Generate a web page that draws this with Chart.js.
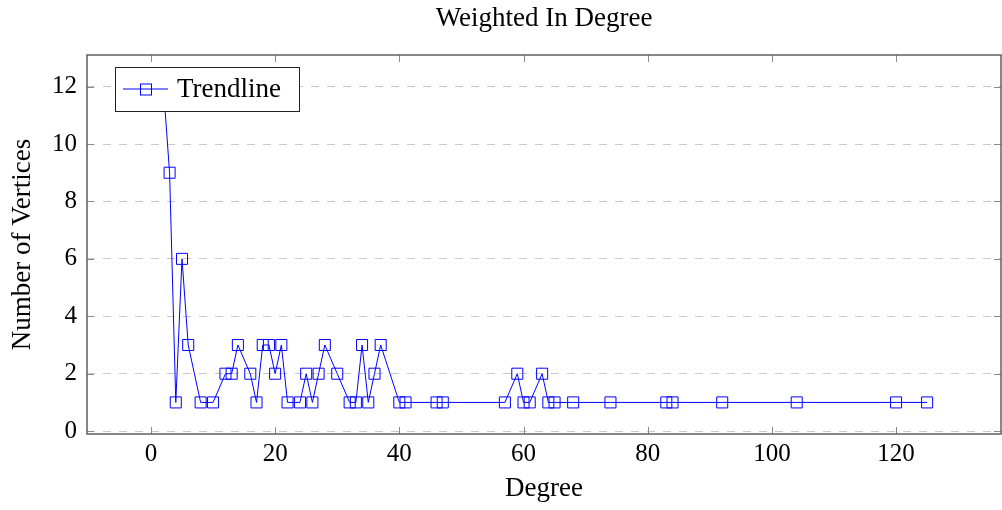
<!DOCTYPE html>
<html>
<head>
<meta charset="utf-8">
<title>Weighted In Degree</title>
<script src="https://cdn.jsdelivr.net/npm/chart.js@4/dist/chart.umd.min.js"></script>
<style>
  html, body { margin: 0; padding: 0; background: #fff; overflow: hidden; }
  #wrap { width: 1002px; height: 510px; position: relative; }
  canvas { display: block; }
</style>
</head>
<body>
<div id="wrap"><canvas id="chart"></canvas></div>
<script>
// degree values and how many vertices have that weighted in-degree
const degrees = [2, 3, 4, 5, 6, 8, 10, 12, 13, 14, 16, 17, 18, 19, 20, 21, 22, 24, 25, 26, 27, 28, 30, 32, 33, 34, 35, 36, 37, 40, 41, 46, 47, 57, 59, 60, 61, 63, 64, 65, 68, 74, 83, 84, 92, 104, 120, 125];
const vertexCounts = [12, 9, 1, 6, 3, 1, 1, 2, 2, 3, 2, 1, 3, 3, 2, 3, 1, 1, 2, 1, 2, 3, 2, 1, 1, 3, 1, 2, 3, 1, 1, 1, 1, 1, 2, 1, 1, 2, 1, 1, 1, 1, 1, 1, 1, 1, 1, 1];
const xTickValues = [0, 20, 40, 60, 80, 100, 120];
const yTickValues = [0, 2, 4, 6, 8, 10, 12];

const seriesLabel = 'Trendline';
const serif = "'Liberation Serif', 'DejaVu Serif', serif";
const blue = '#0000ff';

// pgfplots style frame + inward tick marks on all four sides
const framePlugin = {
  id: 'frame',
  afterDraw(chart) {
    const { ctx, chartArea: a, scales } = chart;
    ctx.save();
    ctx.strokeStyle = '#8a8a8a';
    ctx.lineWidth = 1;
    const len = 7;
    xTickValues.forEach((v) => {
      const x = Math.round(scales.x.getPixelForValue(v)) + 0.5;
      ctx.beginPath();
      ctx.moveTo(x, a.bottom); ctx.lineTo(x, a.bottom - len);
      ctx.moveTo(x, a.top); ctx.lineTo(x, a.top + len);
      ctx.stroke();
    });
    yTickValues.forEach((v) => {
      const y = Math.round(scales.y.getPixelForValue(v)) + 0.5;
      ctx.beginPath();
      ctx.moveTo(a.left, y); ctx.lineTo(a.left + len, y);
      ctx.moveTo(a.right, y); ctx.lineTo(a.right - len, y);
      ctx.stroke();
    });
    ctx.strokeStyle = '#606060';
    ctx.lineWidth = 1.5;
    ctx.strokeRect(a.left, a.top, a.right - a.left, a.bottom - a.top);
    ctx.restore();
  }
};

// legend box inside the plot, top left, drawn over the line
const legendBoxPlugin = {
  id: 'legendBox',
  afterDatasetsDraw(chart) {
    const { ctx, chartArea: a } = chart;
    const x = a.left + 28, y = a.top + 12, w = 184, h = 44;
    ctx.save();
    ctx.fillStyle = '#fff';
    ctx.fillRect(x, y, w, h);
    ctx.strokeStyle = '#222';
    ctx.lineWidth = 1;
    ctx.strokeRect(x + 0.5, y + 0.5, w, h);
    const cy = y + h / 2;
    ctx.strokeStyle = blue;
    ctx.beginPath();
    ctx.moveTo(x + 8, cy); ctx.lineTo(x + 53, cy);
    ctx.stroke();
    ctx.strokeRect(x + 25.5, cy - 5, 11, 11);
    ctx.fillStyle = '#000';
    ctx.font = '27px ' + serif;
    ctx.textBaseline = 'alphabetic';
    ctx.fillText(seriesLabel, x + 62, y + 30);
    ctx.restore();
  }
};

new Chart(document.getElementById('chart'), {
  type: 'line',
  data: {
    datasets: [{
      label: seriesLabel,
      data: degrees.map((d, i) => ({ x: d, y: vertexCounts[i] })),
      borderColor: blue,
      borderWidth: 1,
      pointStyle: 'rect',
      pointRadius: 7.8,
      pointBorderWidth: 1,
      pointBorderColor: blue,
      pointBackgroundColor: 'rgba(0,0,0,0)',
      tension: 0,
      fill: false
    }]
  },
  options: {
    responsive: true,
    maintainAspectRatio: false,
    animation: false,
    layout: { autoPadding: false, padding: { left: 0, right: 1, top: 0, bottom: 0 } },
    plugins: {
      legend: { display: false },
      tooltip: { enabled: false },
      title: {
        display: true,
        fullSize: false,
        text: 'Weighted In Degree',
        color: '#000',
        font: { family: serif, size: 27, weight: 'normal' },
        padding: { top: 3, bottom: 19.6 }
      }
    },
    scales: {
      x: {
        type: 'linear',
        min: -10.3,
        max: 136.9,
        afterBuildTicks: (scale) => { scale.ticks = xTickValues.map((v) => ({ value: v })); },
        afterFit: (scale) => {
          scale.height = 76;
          scale.paddingLeft = 0;
          scale.paddingRight = 0;
        },
        grid: { display: false, drawTicks: false },
        border: { display: false },
        ticks: { color: '#000', padding: 5, maxRotation: 0, font: { family: serif, size: 25 } },
        title: {
          display: true,
          text: 'Degree',
          color: '#000',
          font: { family: serif, size: 27 },
          padding: { top: 0, bottom: 5 }
        }
      },
      y: {
        min: -0.1,
        max: 13.1,
        afterBuildTicks: (scale) => { scale.ticks = yTickValues.map((v) => ({ value: v })); },
        afterFit: (scale) => { scale.width = 87; },
        grid: { color: '#c8c8c8', lineWidth: 1, drawTicks: false },
        border: { display: false, dash: [8, 8] },
        ticks: { color: '#000', padding: 10, font: { family: serif, size: 25 } },
        title: {
          display: true,
          text: 'Number of Vertices',
          color: '#000',
          font: { family: serif, size: 27 },
          padding: { top: 7, bottom: 0 }
        }
      }
    }
  },
  plugins: [framePlugin, legendBoxPlugin]
});
</script>
</body>
</html>
